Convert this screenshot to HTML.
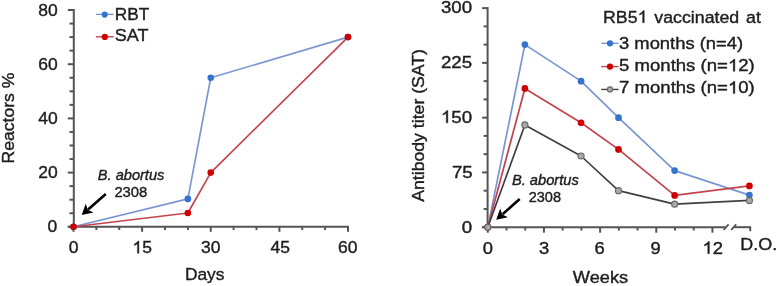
<!DOCTYPE html>
<html><head><meta charset="utf-8"><style>
html,body{margin:0;padding:0;background:#fff;width:777px;height:286px;overflow:hidden}
svg{display:block}
.t{font-family:"Liberation Sans",sans-serif;fill:#1e1e1e;stroke:#1e1e1e;stroke-width:0.4px}
.t .h{fill:none;stroke:none}
.o{fill:#1e1e1e;stroke:#1e1e1e;stroke-width:0.4px}
svg{filter:blur(0.5px)}
</style></head><body>
<svg width="777" height="286" viewBox="0 0 777 286">
<line x1="73.80" y1="9.00" x2="73.80" y2="227.80" stroke="#545454" stroke-width="2"/>
<line x1="67.80" y1="226.80" x2="73.80" y2="226.80" stroke="#545454" stroke-width="2"/>
<line x1="69.50" y1="213.25" x2="73.80" y2="213.25" stroke="#545454" stroke-width="2"/>
<line x1="69.50" y1="199.70" x2="73.80" y2="199.70" stroke="#545454" stroke-width="2"/>
<line x1="69.50" y1="186.15" x2="73.80" y2="186.15" stroke="#545454" stroke-width="2"/>
<line x1="67.80" y1="172.60" x2="73.80" y2="172.60" stroke="#545454" stroke-width="2"/>
<line x1="69.50" y1="159.05" x2="73.80" y2="159.05" stroke="#545454" stroke-width="2"/>
<line x1="69.50" y1="145.50" x2="73.80" y2="145.50" stroke="#545454" stroke-width="2"/>
<line x1="69.50" y1="131.95" x2="73.80" y2="131.95" stroke="#545454" stroke-width="2"/>
<line x1="67.80" y1="118.40" x2="73.80" y2="118.40" stroke="#545454" stroke-width="2"/>
<line x1="69.50" y1="104.85" x2="73.80" y2="104.85" stroke="#545454" stroke-width="2"/>
<line x1="69.50" y1="91.30" x2="73.80" y2="91.30" stroke="#545454" stroke-width="2"/>
<line x1="69.50" y1="77.75" x2="73.80" y2="77.75" stroke="#545454" stroke-width="2"/>
<line x1="67.80" y1="64.20" x2="73.80" y2="64.20" stroke="#545454" stroke-width="2"/>
<line x1="69.50" y1="50.65" x2="73.80" y2="50.65" stroke="#545454" stroke-width="2"/>
<line x1="69.50" y1="37.10" x2="73.80" y2="37.10" stroke="#545454" stroke-width="2"/>
<line x1="69.50" y1="23.55" x2="73.80" y2="23.55" stroke="#545454" stroke-width="2"/>
<line x1="67.80" y1="10.00" x2="73.80" y2="10.00" stroke="#545454" stroke-width="2"/>
<line x1="67.80" y1="226.80" x2="349.00" y2="226.80" stroke="#545454" stroke-width="2"/>
<line x1="73.50" y1="226.80" x2="73.50" y2="231.80" stroke="#545454" stroke-width="2"/>
<line x1="96.38" y1="226.80" x2="96.38" y2="230.00" stroke="#545454" stroke-width="2"/>
<line x1="119.25" y1="226.80" x2="119.25" y2="230.00" stroke="#545454" stroke-width="2"/>
<line x1="142.12" y1="226.80" x2="142.12" y2="231.80" stroke="#545454" stroke-width="2"/>
<line x1="165.00" y1="226.80" x2="165.00" y2="230.00" stroke="#545454" stroke-width="2"/>
<line x1="187.88" y1="226.80" x2="187.88" y2="230.00" stroke="#545454" stroke-width="2"/>
<line x1="210.75" y1="226.80" x2="210.75" y2="231.80" stroke="#545454" stroke-width="2"/>
<line x1="233.62" y1="226.80" x2="233.62" y2="230.00" stroke="#545454" stroke-width="2"/>
<line x1="256.50" y1="226.80" x2="256.50" y2="230.00" stroke="#545454" stroke-width="2"/>
<line x1="279.38" y1="226.80" x2="279.38" y2="231.80" stroke="#545454" stroke-width="2"/>
<line x1="302.25" y1="226.80" x2="302.25" y2="230.00" stroke="#545454" stroke-width="2"/>
<line x1="325.12" y1="226.80" x2="325.12" y2="230.00" stroke="#545454" stroke-width="2"/>
<line x1="348.00" y1="226.80" x2="348.00" y2="231.80" stroke="#545454" stroke-width="2"/>
<polyline points="73.50,226.80 187.88,198.89 210.75,77.75 348.00,37.10" fill="none" stroke="#7a96d2" stroke-width="1.65" stroke-linejoin="round"/>
<circle cx="73.50" cy="226.80" r="3.3" fill="#3573cf"/>
<circle cx="187.88" cy="198.89" r="3.3" fill="#3573cf"/>
<circle cx="210.75" cy="77.75" r="3.3" fill="#3573cf"/>
<circle cx="348.00" cy="37.10" r="3.3" fill="#3573cf"/>
<polyline points="73.50,226.80 187.88,212.98 210.75,172.60 348.00,37.10" fill="none" stroke="#c4434d" stroke-width="1.65" stroke-linejoin="round"/>
<circle cx="73.50" cy="226.80" r="3.3" fill="#cc0000"/>
<circle cx="187.88" cy="212.98" r="3.3" fill="#cc0000"/>
<circle cx="210.75" cy="172.60" r="3.3" fill="#cc0000"/>
<circle cx="348.00" cy="37.10" r="3.3" fill="#cc0000"/>
<line x1="95.90" y1="14.40" x2="113.60" y2="14.40" stroke="#7a96d2" stroke-width="1.4"/>
<circle cx="104.7" cy="14.6" r="3.1" fill="#3573cf"/>
<line x1="95.90" y1="36.80" x2="113.70" y2="36.80" stroke="#c4434d" stroke-width="1.4"/>
<circle cx="104.8" cy="36.9" r="3.1" fill="#cc0000"/>
<line x1="105.80" y1="194.00" x2="88.11" y2="209.42" stroke="#000" stroke-width="2.6"/><polygon points="81.70,215.00 85.74,203.65 87.73,209.74 93.49,212.55" fill="#000"/>
<line x1="487.60" y1="7.11" x2="487.60" y2="227.20" stroke="#545454" stroke-width="2"/>
<line x1="482.10" y1="227.20" x2="487.60" y2="227.20" stroke="#545454" stroke-width="2"/>
<line x1="483.60" y1="208.94" x2="487.60" y2="208.94" stroke="#545454" stroke-width="2"/>
<line x1="483.60" y1="190.69" x2="487.60" y2="190.69" stroke="#545454" stroke-width="2"/>
<line x1="482.10" y1="172.43" x2="487.60" y2="172.43" stroke="#545454" stroke-width="2"/>
<line x1="483.60" y1="154.17" x2="487.60" y2="154.17" stroke="#545454" stroke-width="2"/>
<line x1="483.60" y1="135.91" x2="487.60" y2="135.91" stroke="#545454" stroke-width="2"/>
<line x1="482.10" y1="117.66" x2="487.60" y2="117.66" stroke="#545454" stroke-width="2"/>
<line x1="483.60" y1="99.40" x2="487.60" y2="99.40" stroke="#545454" stroke-width="2"/>
<line x1="483.60" y1="81.14" x2="487.60" y2="81.14" stroke="#545454" stroke-width="2"/>
<line x1="482.10" y1="62.88" x2="487.60" y2="62.88" stroke="#545454" stroke-width="2"/>
<line x1="483.60" y1="44.62" x2="487.60" y2="44.62" stroke="#545454" stroke-width="2"/>
<line x1="483.60" y1="26.37" x2="487.60" y2="26.37" stroke="#545454" stroke-width="2"/>
<line x1="482.10" y1="8.11" x2="487.60" y2="8.11" stroke="#545454" stroke-width="2"/>
<line x1="482.10" y1="227.20" x2="725.20" y2="227.20" stroke="#545454" stroke-width="2"/>
<line x1="487.80" y1="227.20" x2="487.80" y2="232.70" stroke="#545454" stroke-width="2"/>
<line x1="506.52" y1="227.20" x2="506.52" y2="230.50" stroke="#545454" stroke-width="2"/>
<line x1="525.24" y1="227.20" x2="525.24" y2="230.50" stroke="#545454" stroke-width="2"/>
<line x1="543.96" y1="227.20" x2="543.96" y2="232.70" stroke="#545454" stroke-width="2"/>
<line x1="562.68" y1="227.20" x2="562.68" y2="230.50" stroke="#545454" stroke-width="2"/>
<line x1="581.40" y1="227.20" x2="581.40" y2="230.50" stroke="#545454" stroke-width="2"/>
<line x1="600.12" y1="227.20" x2="600.12" y2="232.70" stroke="#545454" stroke-width="2"/>
<line x1="618.84" y1="227.20" x2="618.84" y2="230.50" stroke="#545454" stroke-width="2"/>
<line x1="637.56" y1="227.20" x2="637.56" y2="230.50" stroke="#545454" stroke-width="2"/>
<line x1="656.28" y1="227.20" x2="656.28" y2="232.70" stroke="#545454" stroke-width="2"/>
<line x1="675.00" y1="227.20" x2="675.00" y2="230.50" stroke="#545454" stroke-width="2"/>
<line x1="693.72" y1="227.20" x2="693.72" y2="230.50" stroke="#545454" stroke-width="2"/>
<line x1="712.44" y1="227.20" x2="712.44" y2="232.70" stroke="#545454" stroke-width="2"/>
<line x1="723.60" y1="229.80" x2="728.60" y2="224.40" stroke="#545454" stroke-width="1.8"/>
<line x1="731.20" y1="229.80" x2="736.20" y2="224.40" stroke="#545454" stroke-width="1.8"/>
<line x1="733.60" y1="227.20" x2="751.10" y2="227.20" stroke="#545454" stroke-width="2"/>
<line x1="750.20" y1="227.20" x2="750.20" y2="231.20" stroke="#545454" stroke-width="2"/>
<polyline points="487.80,227.20 524.89,44.62 581.05,81.14 618.49,117.66 674.65,170.60 749.40,195.07" fill="none" stroke="#7a96d2" stroke-width="1.7" stroke-linejoin="round"/>
<circle cx="487.80" cy="227.20" r="3.35" fill="#3573cf"/>
<circle cx="524.89" cy="44.62" r="3.35" fill="#3573cf"/>
<circle cx="581.05" cy="81.14" r="3.35" fill="#3573cf"/>
<circle cx="618.49" cy="117.66" r="3.35" fill="#3573cf"/>
<circle cx="674.65" cy="170.60" r="3.35" fill="#3573cf"/>
<circle cx="749.40" cy="195.07" r="3.35" fill="#3573cf"/>
<polyline points="487.80,227.20 524.89,88.44 581.05,122.77 618.49,149.42 674.65,195.43 749.40,185.94" fill="none" stroke="#c4434d" stroke-width="1.7" stroke-linejoin="round"/>
<circle cx="487.80" cy="227.20" r="3.35" fill="#cc0000"/>
<circle cx="524.89" cy="88.44" r="3.35" fill="#cc0000"/>
<circle cx="581.05" cy="122.77" r="3.35" fill="#cc0000"/>
<circle cx="618.49" cy="149.42" r="3.35" fill="#cc0000"/>
<circle cx="674.65" cy="195.43" r="3.35" fill="#cc0000"/>
<circle cx="749.40" cy="185.94" r="3.35" fill="#cc0000"/>
<polyline points="487.80,227.20 524.89,124.96 581.05,156.00 618.49,190.69 674.65,204.20 749.40,200.40" fill="none" stroke="#404040" stroke-width="1.7" stroke-linejoin="round"/>
<circle cx="487.80" cy="227.20" r="3.05" fill="#a8a8a8" stroke="#666666" stroke-width="1.1"/>
<circle cx="524.89" cy="124.96" r="3.05" fill="#a8a8a8" stroke="#666666" stroke-width="1.1"/>
<circle cx="581.05" cy="156.00" r="3.05" fill="#a8a8a8" stroke="#666666" stroke-width="1.1"/>
<circle cx="618.49" cy="190.69" r="3.05" fill="#a8a8a8" stroke="#666666" stroke-width="1.1"/>
<circle cx="674.65" cy="204.20" r="3.05" fill="#a8a8a8" stroke="#666666" stroke-width="1.1"/>
<circle cx="749.40" cy="200.40" r="3.05" fill="#a8a8a8" stroke="#666666" stroke-width="1.1"/>
<line x1="601.20" y1="43.35" x2="618.60" y2="43.35" stroke="#7a96d2" stroke-width="1.4"/>
<circle cx="610" cy="43.35" r="3.15" fill="#3573cf"/>
<line x1="601.20" y1="66.60" x2="618.60" y2="66.60" stroke="#c4434d" stroke-width="1.4"/>
<circle cx="610" cy="66.6" r="3.15" fill="#cc0000"/>
<line x1="601.20" y1="89.45" x2="618.60" y2="89.45" stroke="#404040" stroke-width="1.4"/>
<circle cx="610" cy="89.45" r="2.6" fill="#a8a8a8" stroke="#666666" stroke-width="1.1"/>
<line x1="519.70" y1="199.10" x2="502.58" y2="214.18" stroke="#000" stroke-width="2.6"/><polygon points="496.20,219.80 500.18,208.43 502.20,214.51 507.98,217.29" fill="#000"/>
<text transform="translate(38.16,15.50) scale(1.0300,1)" style="font-size:17px" class="t">80</text>
<text transform="translate(38.16,69.70) scale(1.0300,1)" style="font-size:17px" class="t">60</text>
<text transform="translate(38.16,123.70) scale(1.0300,1)" style="font-size:17px" class="t">40</text>
<text transform="translate(38.16,177.90) scale(1.0300,1)" style="font-size:17px" class="t">20</text>
<text transform="translate(47.43,232.10) scale(1.0300,1)" style="font-size:17px" class="t">0</text>
<text transform="translate(68.75,253.20) scale(1.0300,1)" style="font-size:17px" class="t">0</text>
<g transform="translate(132.41,253.20) scale(1.0300,1)"><text style="font-size:17px" class="t"><tspan class="h">1</tspan>5</text><path class="o" d="M6.33,0.00L4.84,0.00L4.84,-9.52Q4.30,-9.01 3.42,-8.49Q2.55,-7.98 1.85,-7.72L1.85,-9.16Q3.10,-9.75 4.04,-10.59Q4.98,-11.43 5.37,-12.22L6.33,-12.22Z"/></g>
<text transform="translate(201.12,253.00) scale(1.0300,1)" style="font-size:17px" class="t">30</text>
<text transform="translate(270.50,253.00) scale(1.0300,1)" style="font-size:17px" class="t">45</text>
<text transform="translate(338.01,252.90) scale(1.0300,1)" style="font-size:17px" class="t">60</text>
<text transform="translate(184.88,279.80) scale(1.0243,1)" style="font-size:17px" class="t">Days</text>
<text transform="translate(14.00,163.43) rotate(-90) scale(1.0349,1)" style="font-size:17px" class="t">Reactors %</text>
<text transform="translate(114.79,19.50) scale(1.0121,1)" style="font-size:17px" class="t">RBT</text>
<text transform="translate(114.74,41.20) scale(1.0613,1)" style="font-size:17px" class="t">SAT</text>
<text transform="translate(97.79,179.60) scale(1.0077,1)" style="font-size:14.5px;font-style:italic" class="t">B. abortus</text>
<text transform="translate(114.38,196.50) scale(1.0226,1)" style="font-size:14.5px" class="t">2308</text>
<text transform="translate(440.90,13.30) scale(1.1000,1)" style="font-size:17px" class="t">300</text>
<text transform="translate(440.90,68.00) scale(1.1000,1)" style="font-size:17px" class="t">225</text>
<g transform="translate(440.90,122.80) scale(1.1000,1)"><text style="font-size:17px" class="t"><tspan class="h">1</tspan>50</text><path class="o" d="M6.33,0.00L4.84,0.00L4.84,-9.52Q4.30,-9.01 3.42,-8.49Q2.55,-7.98 1.85,-7.72L1.85,-9.16Q3.10,-9.75 4.04,-10.59Q4.98,-11.43 5.37,-12.22L6.33,-12.22Z"/></g>
<text transform="translate(451.90,177.93) scale(1.1000,1)" style="font-size:17px" class="t">75</text>
<text transform="translate(461.80,232.70) scale(1.1000,1)" style="font-size:17px" class="t">0</text>
<text transform="translate(482.80,253.70) scale(1.0800,1)" style="font-size:17px" class="t">0</text>
<text transform="translate(538.90,253.70) scale(1.0800,1)" style="font-size:17px" class="t">3</text>
<text transform="translate(594.60,253.70) scale(1.0800,1)" style="font-size:17px" class="t">6</text>
<text transform="translate(650.40,253.70) scale(1.0800,1)" style="font-size:17px" class="t">9</text>
<g transform="translate(702.54,253.70) scale(1.0800,1)"><text style="font-size:17px" class="t"><tspan class="h">1</tspan>2</text><path class="o" d="M6.33,0.00L4.84,0.00L4.84,-9.52Q4.30,-9.01 3.42,-8.49Q2.55,-7.98 1.85,-7.72L1.85,-9.16Q3.10,-9.75 4.04,-10.59Q4.98,-11.43 5.37,-12.22L6.33,-12.22Z"/></g>
<text transform="translate(740.24,250.30) scale(1.0576,1)" style="font-size:17px" class="t">D.O.</text>
<text transform="translate(572.80,282.60) scale(1.0706,1)" style="font-size:17px" class="t">Weeks</text>
<text transform="translate(423.50,201.80) rotate(-90) scale(1.0397,1)" style="font-size:17px" class="t">Antibody titer (SAT)</text>
<g transform="translate(603.05,22.80) scale(1.0453,1)"><text style="font-size:17px;word-spacing:1.8px" class="t">RB5<tspan class="h">1</tspan> vaccinated at</text><path class="o" d="M39.40,0.00L37.91,0.00L37.91,-9.52Q37.37,-9.01 36.49,-8.49Q35.62,-7.98 34.92,-7.72L34.92,-9.16Q36.17,-9.75 37.11,-10.59Q38.05,-11.43 38.44,-12.22L39.40,-12.22Z"/></g>
<text transform="translate(619.02,49.00) scale(1.0814,1)" style="font-size:17px" class="t">3 months (n=4)</text>
<g transform="translate(619.11,71.30) scale(1.0918,1)"><text style="font-size:17px" class="t">5 months (n=<tspan class="h">1</tspan>2)</text><path class="o" d="M106.03,0.00L104.53,0.00L104.53,-9.52Q103.99,-9.01 103.12,-8.49Q102.24,-7.98 101.54,-7.72L101.54,-9.16Q102.80,-9.75 103.73,-10.59Q104.67,-11.43 105.06,-12.22L106.03,-12.22Z"/></g>
<g transform="translate(619.11,93.40) scale(1.0918,1)"><text style="font-size:17px" class="t">7 months (n=<tspan class="h">1</tspan>0)</text><path class="o" d="M106.03,0.00L104.53,0.00L104.53,-9.52Q103.99,-9.01 103.12,-8.49Q102.24,-7.98 101.54,-7.72L101.54,-9.16Q102.80,-9.75 103.73,-10.59Q104.67,-11.43 105.06,-12.22L106.03,-12.22Z"/></g>
<text transform="translate(511.89,184.80) scale(1.0138,1)" style="font-size:14.5px;font-style:italic" class="t">B. abortus</text>
<text transform="translate(528.70,201.50) scale(1.0032,1)" style="font-size:14.5px" class="t">2308</text>
</svg>
</body></html>
